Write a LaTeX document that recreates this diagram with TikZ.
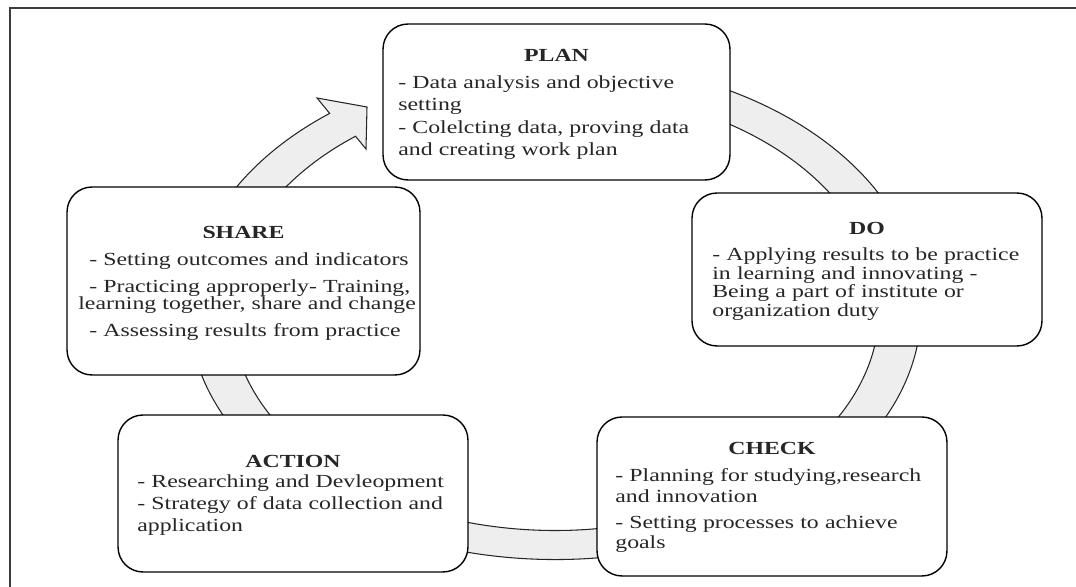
\documentclass[tikz,border=0pt]{standalone}
\usepackage{fontspec}
\setmainfont[FakeStretch=1.29]{Liberation Serif}
\usetikzlibrary{positioning}
\definecolor{bandgray}{RGB}{238,238,238}
\definecolor{framegray}{RGB}{60,60,60}

\tikzset{
  box/.style={draw, line width=0.8pt, rounded corners=0.5cm, fill=white, inner sep=0pt},
  headtext/.style={font=\fontsize{10.5}{12}\selectfont\bfseries, text=black!85, inner sep=0pt, anchor=base},
  bodytext/.style={font=\fontsize{10.5}{12.5}\selectfont, text=black!85, inner sep=0pt, anchor=base west, text width=6.8cm, align=left},
  band/.style={fill=bandgray, draw=black!85, line width=0.6pt}
}

\begin{document}
\begin{tikzpicture}[x=0.02cm, y=0.02cm]
    \useasboundingbox (0,0) rectangle (1076,-587);
    % frame
    \draw[framegray, line width=1.1pt] (10,-587) -- (10,-8) -- (1076,-8);

    % cycle band
    \coordinate (mid) at (555,-310);
    \path[band] (mid) ++(80:366 and 249.5)
        arc[start angle=80, end angle=-232, x radius=366, y radius=249.5]
        -- (317,-98) -- (367,-107) -- (366,-149)
        -- ([shift={(-232:324 and 220.5)}]mid)
        arc[start angle=-232, end angle=80, x radius=324, y radius=220.5] -- cycle;

    % boxes
    \node[box, minimum width=6.94cm, minimum height=3.12cm] (plan) at (556.5,-102) {};
    \node[box, minimum width=7cm, minimum height=3.06cm] (do) at (867,-269.5) {};
    \node[box, minimum width=7cm, minimum height=3.18cm] (check) at (772,-496.5) {};
    \node[box, minimum width=7cm, minimum height=3.14cm] (action) at (293,-493.5) {};
    \node[box, minimum width=7.06cm, minimum height=3.76cm] (share) at (243.5,-281) {};

    % texts
    \node[headtext] (plan title) at (556.5,-62) {PLAN};
    \node[bodytext] (plan text) at (398,-89) {- Data analysis and objective\\ setting\\[0.6pt] - Colelcting data, proving data\\ and creating work plan};

    \node[headtext] (do title) at (867,-235) {DO};
    \node[bodytext, font=\fontsize{10.5}{10.5}\selectfont] (do text) at (712,-261) {- Applying results to be practice\\ in learning and innovating -\\ Being a part of institute or\\ organization duty};

    \node[headtext] (check title) at (772,-455) {CHECK};
    \node[bodytext, font=\fontsize{10.5}{11.7}\selectfont] (check text) at (615,-482) {- Planning for studying,research\\ and innovation\\[3pt] - Setting processes to achieve\\ goals};

    \node[headtext] (action title) at (293,-468) {ACTION};
    \node[bodytext] (action text) at (137,-488) {- Researching and Devleopment\\ - Strategy of data collection and\\ application};

    \node[headtext] (share title) at (243.5,-239) {SHARE};
    \node[bodytext, font=\fontsize{10.5}{10}\selectfont] (share text) at (78,-266) {\hspace*{0.22cm}- Setting outcomes and indicators\\[5pt] \hspace*{0.22cm}- Practicing approperly- Training,\\ learning together, share and change\\[5pt] \hspace*{0.22cm}- Assessing results from practice};
\end{tikzpicture}
\end{document}
